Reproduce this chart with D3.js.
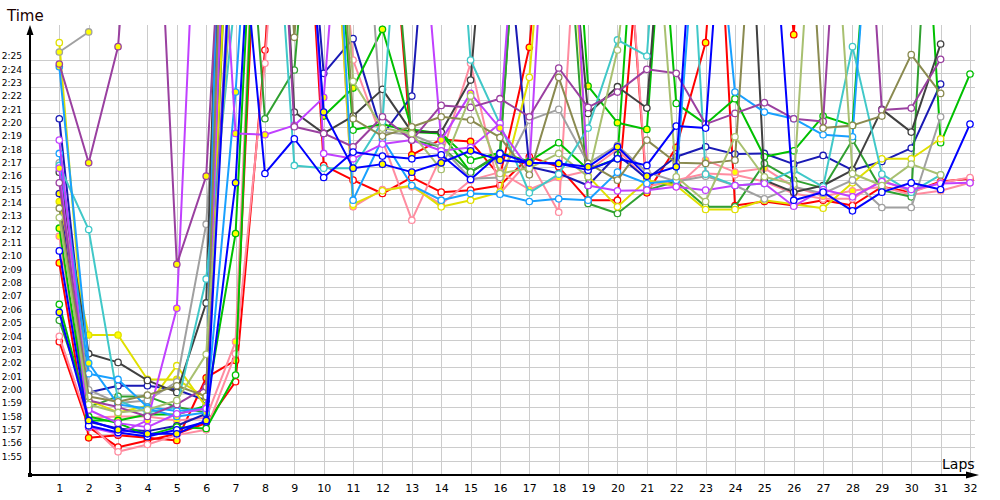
<!DOCTYPE html>
<html><head><meta charset="utf-8">
<script src="https://cdn.jsdelivr.net/npm/d3@7"></script>
<style>body{margin:0;background:#fff}svg{display:block}</style>
</head><body><svg id="c" width="1000" height="500"></svg>
<script>
// ---- data (lap times in seconds; values above 2:28 are off the chart; null = no lap) ----
const laps = d3.range(1, 33);
const yTickLabels = ["1:55","1:56","1:57","1:58","1:59","2:00","2:01","2:02","2:03","2:04","2:05","2:06","2:07","2:08","2:09","2:10","2:11","2:12","2:13","2:14","2:15","2:16","2:17","2:18","2:19","2:20","2:21","2:22","2:23","2:24","2:25"];

const redA = [123.9,117.5,116.0,116.5,117.0,117.8,120.9,145.75,175,137.1,136.0,135.0,136.2,135.1,135.25,135.6,137.75,137.0,134.5,134.5,160,170,175,134.1,134.4,134.1,134.5,134.1,135.5,135.1,135.9,136.1];
const redB = [129.8,116.7,116.9,116.7,116.5,121.2,122.5,170,180,175,170,165,137.9,139.05,138.9,136.3,145.95,170,175,165,135.05,138.45,146.3,175,170,146.9,180,null,null,null,null,null];
const pinkA = [124.3,117.8,115.65,116.2,116.9,117.3,123.0,144.75,175,170,145.0,139.0,133.0,137.8,144.75,135.0,137.5,133.6,170,165,135.5,136.0,136.5,136.4,135.9,135.0,134.6,134.6,136.0,135.1,135.8,136.2];
const pinkB = [131.8,118.2,118.3,118.3,118.0,118.2,123.9,175,180,170,134.0,135.3,135.5,134.2,136.0,136.6,135.3,136.2,136.7,138.3,136.0,135.5,137.5,136.6,136.9,135.5,134.8,135.2,135.5,134.9,135.2,135.8];
const blueA = [130.7,117.6,117.1,116.8,117.3,117.9,160,136.5,139.1,136.2,138.1,137.8,137.6,137.9,136.05,138.0,137.3,137.25,136.75,137.6,137.1,140.05,139.9,170,165,134.5,135.1,133.7,135.1,135.8,135.3,140.2];
const blueB = [126.1,118.0,117.3,117.0,117.0,118.0,135.8,175,170,141.1,136.9,137.2,136.6,137.3,138.2,137.5,137.3,137.25,137.0,138.5,136.3,137.0,170,175,null,null,null,null,null,null,null,null];
const navyA = [140.6,120.1,120.6,120.6,120.3,119.5,200,180,170,144.0,146.6,139.4,142.3,170,165,160,137.0,136.5,135.6,137.9,136.1,137.75,138.5,137.95,138.0,137.2,137.85,136.75,137.4,138.4,143.2,null];
const navyB = [135.0,117.9,117.4,117.2,117.6,118.5,175,180,null,null,null,null,null,null,null,null,null,null,null,null,null,null,null,null,null,null,null,null,null,null,null,null];
const greenA = [126.7,118.3,117.8,116.9,117.5,117.4,121.4,175,180,170,139.75,140.2,139.6,139.5,137.5,138.05,137.4,138.8,136.8,137.6,170,141.75,140.2,142.1,137.75,138.2,140.8,140.1,170,175,138.8,143.95];
const greenB = [132.4,118.0,118.0,118.45,118.45,119.1,132.0,175,170,140.8,142.9,147.3,139.8,139.5,136.6,137.9,170,175,143.05,140.3,139.8,170,null,null,null,null,null,null,null,null,null,null];
const dkGreenA = [125.5,119.0,119.8,119.8,119.0,118.6,170,140.6,144.25,170,175,165,139.0,138.5,136.6,138.0,170,165,134.25,133.5,135.25,135.9,134.0,134.0,137.25,136.0,135.4,139.0,135.25,134.75,175,null];
const yellowA = [146.3,119.5,118.6,119.1,122.1,119.0,185,180,170,170,134.2,135.2,135.6,134.0,134.5,135.1,143.7,170,136.3,134.0,136.0,135.6,133.8,133.8,134.5,134.2,133.9,135.8,137.6,137.6,139.1,null];
const yellowB = [134.4,124.4,124.4,121.07,121.07,119.7,170,180,null,null,null,null,null,null,null,null,null,null,null,null,null,null,null,null,null,null,null,null,null,null,null,null];
const grayA = [137.3,120.3,119.3,119.5,120.9,132.7,165,180,170,175,170,139.6,139.4,138.5,136.1,136.2,140.5,141.3,137.25,138.6,136.6,135.9,136.3,135.6,134.6,135.5,135.0,136.0,133.95,133.95,140.75,null];
const grayB = [145.6,147.1,null,null,null,null,null,null,null,null,null,null,null,null,null,null,null,null,null,null,null,null,null,null,null,null,null,null,null,null,null,null];
const blackA = [136.6,123.0,122.35,121.0,120.1,126.8,195,180,141.1,139.5,140.8,142.8,139.6,139.6,143.5,170,175,165,141.0,143.0,141.4,170,175,180,136.0,135.1,135.6,136.75,141.3,139.6,146.2,null];
const tealA = [137.1,132.3,119.5,118.6,119.0,128.6,150,170,137.1,136.9,136.9,140.4,170,175,145.0,140.2,135.05,136.45,139.9,146.5,145.3,175,136.45,135.6,135.75,136.75,135.5,146.0,136.45,135.1,136.4,null];
const skyA = [138.0,121.5,121.07,119.0,118.7,118.9,210,180,170,175,134.5,139.1,135.6,134.5,135.0,134.95,134.4,134.6,134.5,136.6,135.75,136.0,165,142.6,141.1,140.6,139.4,139.25,170,175,null,null];
const skyB = [144.5,122.3,119.2,118.9,118.3,118.6,142.6,175,null,null,null,null,null,null,null,null,null,null,null,null,null,null,null,null,null,null,null,null,null,null,null,null];
const violetA = [139.0,118.8,117.8,117.5,118.5,118.9,180,170,180,138.0,137.6,138.7,139.0,138.2,138.45,140.25,170,175,135.6,135.2,135.25,135.5,135.25,135.6,135.75,134.05,135.3,134.75,135.9,135.3,135.75,135.8];
const violetB = [136.9,117.5,117.0,118.0,126.4,175,139.5,139.4,140.1,142.2,170,175,165,139.0,142.5,139.9,136.8,175,null,null,null,null,null,null,null,null,null,null,null,null,null,null];
const purpleA = [135.8,119.5,119.0,118.3,119.2,120.5,160,180,140.0,139.5,138.5,140.75,139.0,141.6,141.45,142.1,140.75,144.4,141.45,142.6,144.3,144.0,140.2,141.0,141.8,140.6,140.4,175,141.25,141.4,145.05,null];
const purpleB = [144.7,137.3,146.0,175,129.7,136.3,175,null,null,null,null,null,null,null,null,null,null,null,null,null,null,null,null,null,null,null,null,null,null,null,null,null];
const oliveA = [133.9,119.8,119.4,119.9,120.6,119.8,190,180,146.7,175,140.6,139.3,140.0,140.75,140.5,139.2,136.4,143.7,137.25,136.0,139.0,137.3,137.25,137.5,170,175,139.9,140.1,140.8,145.4,142.5,null];
const sageA = [133.2,119.2,118.6,118.8,119.5,122.95,155,180,170,175,143.4,139.9,139.5,136.8,142.3,136.5,136.9,138.0,136.25,145.75,165,136.25,134.4,139.25,136.25,135.7,170,136.5,135.6,137.2,136.4,null];

// ---- series styles ----
const series = [
  {v: redA, c: "#ff0000", f: "#ffffff"}, {v: redB, c: "#ff0000", f: "#ffff00"},
  {v: pinkA, c: "#ff8ca0", f: "#ffffff"}, {v: pinkB, c: "#ff8ca0", f: "#ffff00"},
  {v: navyA, c: "#1a1ab4", f: "#ffffff"}, {v: navyB, c: "#1a1ab4", f: "#ffff00"},
  {v: greenA, c: "#00c000", f: "#ffffff"}, {v: greenB, c: "#00c000", f: "#ffff00"},
  {v: dkGreenA, c: "#30a030", f: "#ffffff"},
  {v: yellowA, c: "#e0e000", f: "#ffffff"}, {v: yellowB, c: "#e0e000", f: "#ffff00"},
  {v: grayA, c: "#a0a0a0", f: "#ffffff"}, {v: grayB, c: "#a0a0a0", f: "#ffff00"},
  {v: blackA, c: "#404040", f: "#ffffff"},
  {v: tealA, c: "#40c8c8", f: "#ffffff"},
  {v: skyA, c: "#18a0ff", f: "#ffffff"}, {v: skyB, c: "#18a0ff", f: "#ffff00"},
  {v: violetA, c: "#c040ff", f: "#ffffff"}, {v: violetB, c: "#c040ff", f: "#ffff00"},
  {v: purpleA, c: "#9a40a0", f: "#ffffff"}, {v: purpleB, c: "#9a40a0", f: "#ffff00"},
  {v: oliveA, c: "#8a8a50", f: "#ffffff"},
  {v: sageA, c: "#a8c070", f: "#ffffff"},
  {v: blueA, c: "#0000ff", f: "#ffffff"}, {v: blueB, c: "#0000ff", f: "#ffff00"}
];

const toSec = s => { const [m, ss] = s.split(":"); return +m * 60 + +ss; };

const svg = d3.select("#c");
const x = d3.scaleLinear().domain([1, 32]).range([59.3, 970]);
const y = d3.scaleLinear().domain([115, 145]).range([460.5, 60]);
const X0 = 30, Y0 = 475, TOP = 25, RIGHT = 975;
const font = "DejaVu Sans, Verdana, sans-serif";

// grid
const grid = svg.append("g").attr("stroke", "#cccccc").attr("stroke-width", 1);
yTickLabels.forEach(t => {
  const yy = Math.round(y(toSec(t))) + 0.5;
  grid.append("line").attr("x1", X0).attr("x2", RIGHT).attr("y1", yy).attr("y2", yy);
});
laps.forEach(l => {
  const xx = Math.round(x(l)) + 0.5;
  grid.append("line").attr("x1", xx).attr("x2", xx).attr("y1", TOP).attr("y2", Y0);
});

// series
svg.append("clipPath").attr("id", "clip").append("rect")
  .attr("x", X0).attr("y", TOP).attr("width", 1000 - X0).attr("height", Y0 - TOP);
const plot = svg.append("g").attr("clip-path", "url(#clip)");
const line = d3.line().defined(d => d != null).x((d, i) => x(laps[i])).y(d => y(d));
series.forEach(s => {
  const g = plot.append("g");
  g.append("path").attr("d", line(s.v)).attr("fill", "none").attr("stroke", s.c)
    .attr("stroke-width", 2).attr("stroke-linejoin", "round");
  g.selectAll("circle").data(s.v.map((d, i) => [laps[i], d]).filter(p => p[1] != null && p[1] < 148))
    .join("circle").attr("cx", p => x(p[0])).attr("cy", p => y(p[1])).attr("r", 3.2)
    .attr("fill", s.f).attr("stroke", s.c).attr("stroke-width", 1.3);
});

// axes labels via d3 axes
const xAxis = d3.axisBottom(x).tickValues(laps).tickSize(0).tickPadding(9).tickFormat(d3.format("d"));
const gx = svg.append("g").attr("transform", `translate(0,${Y0})`).call(xAxis);
gx.select(".domain").remove();
gx.selectAll("text").attr("font-family", font).attr("font-size", 11).attr("fill", "#000");

const yAxis = d3.axisLeft(y).tickValues(yTickLabels.map(toSec)).tickSize(0).tickPadding(8)
  .tickFormat((d, i) => yTickLabels[i]);
const gy = svg.append("g").attr("transform", `translate(${X0},0)`).call(yAxis);
gy.select(".domain").remove();
gy.selectAll("text").attr("font-family", font).attr("font-size", 9).attr("dy", "-0.15em").attr("fill", "#000");

// axis lines with arrows
svg.append("line").attr("x1", X0).attr("x2", X0).attr("y1", Y0).attr("y2", TOP + 8).attr("stroke", "#000").attr("stroke-width", 2);
svg.append("path").attr("d", `M${X0},${TOP} L${X0 - 3.5},${TOP + 10} L${X0 + 3.5},${TOP + 10} Z`).attr("fill", "#000");
svg.append("line").attr("x1", X0).attr("x2", 970).attr("y1", Y0).attr("y2", Y0).attr("stroke", "#000").attr("stroke-width", 2);
svg.append("path").attr("d", `M979,${Y0} L966,${Y0 - 3.5} L966,${Y0 + 3.5} Z`).attr("fill", "#000");
svg.append("rect").attr("x", X0 - 2).attr("y", Y0 - 2).attr("width", 4).attr("height", 4).attr("fill", "#000");

svg.append("text").attr("x", 7).attr("y", 21).attr("font-family", font).attr("font-size", 15).attr("fill", "#1a0000").text("Time");
svg.append("text").attr("x", 942).attr("y", 469).attr("font-family", font).attr("font-size", 14).attr("fill", "#000").text("Laps");
</script></body></html>
